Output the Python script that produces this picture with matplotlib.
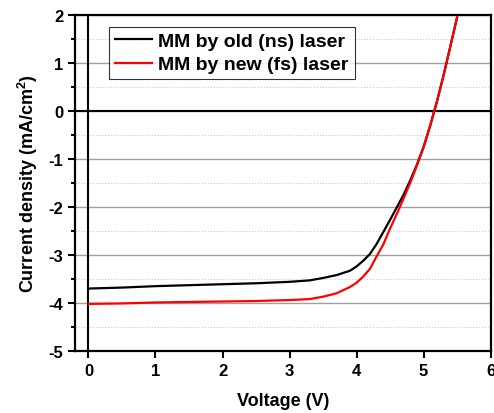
import matplotlib
matplotlib.use("Agg")
import matplotlib.pyplot as plt
from matplotlib.ticker import MultipleLocator

FONT = 'Liberation Sans'
plt.rcParams['font.family'] = FONT
plt.rcParams['font.weight'] = 'bold'
plt.rcParams['axes.unicode_minus'] = False
plt.rcParams['mathtext.fontset'] = 'custom'
plt.rcParams['mathtext.rm'] = FONT + ':bold'
plt.rcParams['mathtext.bf'] = FONT + ':bold'
plt.rcParams['mathtext.default'] = 'bf'

# J-V curves
voltage = [0, 0.5, 1, 1.5, 2, 2.5, 3, 3.3, 3.5, 3.7, 3.9, 4.0, 4.1, 4.2, 4.3, 4.4,
           4.5, 4.6, 4.7, 4.8, 4.9, 5.0, 5.1, 5.2, 5.3, 5.4, 5.5]
j_old = [-3.70, -3.68, -3.65, -3.63, -3.61, -3.59, -3.56, -3.53, -3.48, -3.42, -3.33,
         -3.24, -3.12, -2.98, -2.77, -2.52, -2.27, -2.01, -1.75, -1.45, -1.12, -0.75,
         -0.30, 0.20, 0.75, 1.35, 1.95]
j_new = [-4.02, -4.01, -3.99, -3.98, -3.97, -3.96, -3.94, -3.92, -3.87, -3.80, -3.67,
         -3.58, -3.45, -3.29, -3.03, -2.78, -2.45, -2.15, -1.83, -1.50, -1.14, -0.76,
         -0.30, 0.20, 0.75, 1.35, 1.95]
labels = ["MM by old (ns) laser", "MM by new (fs) laser"]

fig = plt.figure(figsize=(4.94, 4.14), dpi=100)
ax = fig.add_axes([0.152, 0.150, 0.841, 0.811])

ax.yaxis.set_major_locator(MultipleLocator(1))
ax.yaxis.set_minor_locator(MultipleLocator(0.5))
ax.xaxis.set_major_locator(MultipleLocator(1))
ax.grid(True, which='major', axis='y', color='#a0a0a0', lw=1.0)
ax.grid(True, which='minor', axis='y', color='#c8c8c8', lw=0.8, ls=':')
ax.set_axisbelow(True)

ax.axhline(0, color='black', lw=1.5, zorder=2)
ax.axvline(0, color='black', lw=1.5, zorder=2)

ax.plot(voltage, j_old, color='black', lw=1.6, label=labels[0], zorder=3)
ax.plot(voltage, j_new, color='#ff0000', lw=1.6, label=labels[1], zorder=4)

ax.set_xlim(-0.2, 6)
ax.set_ylim(-5, 2)
ax.set_xticks([0, 1, 2, 3, 4, 5, 6])

for s in ax.spines.values():
    s.set_linewidth(1.6)
ax.tick_params(which='major', direction='out', length=5, width=1.5, labelsize=12)
ax.tick_params(which='minor', direction='out', length=3, width=1.5)
ax.tick_params(axis='x', which='minor', bottom=False)
for t in ax.get_xticklabels() + ax.get_yticklabels():
    t.set_family(FONT)
    t.set_fontweight('bold')

ax.set_xlabel("Voltage (V)", family=FONT, fontsize=13, fontweight='bold', labelpad=10)
ax.set_ylabel("Current density (mA/cm$^2$)", family=FONT, fontsize=13,
              fontweight='bold', labelpad=6)

leg = ax.legend(loc='upper left', bbox_to_anchor=(0.081, 0.966),
                prop={'family': FONT, 'weight': 'bold', 'size': 14},
                frameon=True, fancybox=False, edgecolor='black', handlelength=1.9,
                borderpad=0.3, labelspacing=0.3, handletextpad=0.35, borderaxespad=0)
leg.get_frame().set_linewidth(0.8)

fig.savefig("out.png", dpi=100)
